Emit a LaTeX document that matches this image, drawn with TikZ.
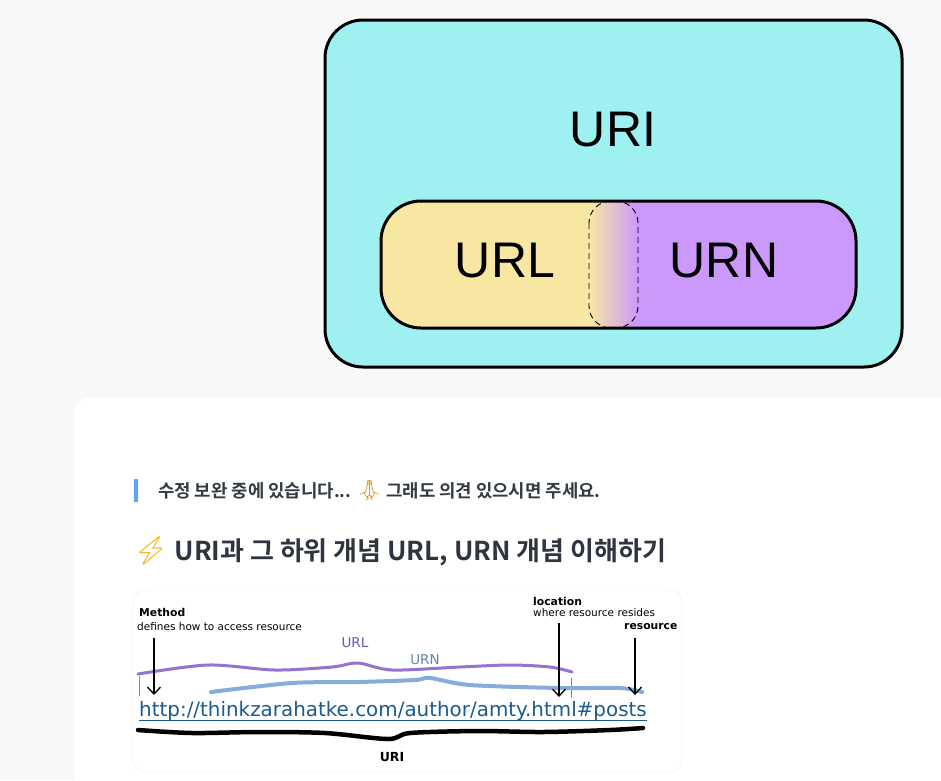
\documentclass[tikz,border=0pt]{standalone}
\usepackage{fontspec}
\setmainfont{Liberation Sans}
\newfontfamily\krfont{Noto Sans CJK KR Bold}
\newfontfamily\emojifont{Noto Emoji}
\newfontfamily\handfont{DejaVu Sans}
\usetikzlibrary{arrows.meta}
\definecolor{pagebg}{HTML}{F7F8FA}
\definecolor{uricyan}{HTML}{9EF0F1}
\definecolor{urlyellow}{HTML}{F7E7A2}
\definecolor{urnpurple}{HTML}{CB98FC}
\definecolor{quotebar}{HTML}{5BA4F7}
\definecolor{krtext}{HTML}{333A45}
\definecolor{headtext}{HTML}{2E3440}
\definecolor{linkblue}{HTML}{1C5B8C}
\definecolor{wavepurple}{HTML}{9474D0}
\definecolor{waveblue}{HTML}{86ABDD}
\definecolor{urltext}{HTML}{6E55A8}
\definecolor{urntext}{HTML}{6585A8}
\definecolor{boltyellow}{HTML}{F2B200}
\definecolor{prayorange}{HTML}{E0962A}
\begin{document}
\begin{tikzpicture}[x=1pt,y=-1pt,
	biglabel/.style={font=\fontsize{50}{50}\selectfont, inner sep=0pt},
	hand/.style={font=\handfont\fontsize{10.5}{12}\selectfont, inner sep=0pt},
	handbold/.style={font=\handfont\bfseries\fontsize{10.8}{12}\selectfont, inner sep=0pt},
	wave/.style={line width=3pt, line cap=round},
	pointer/.style={line width=1.1pt, -{Straight Barb[length=7pt,width=13pt,line width=1.3pt]}}
	]
	\useasboundingbox (0,0) rectangle (941,780);
	\fill[pagebg] (0,0) rectangle (941,780);
	% URI box with URL / URN pill
	\draw[line width=3pt, fill=uricyan, rounded corners=38pt] (325,20) rectangle (902,367);
	\node[biglabel] (uri) at (613,130) {URI};
	\begin{scope}
		\clip[rounded corners=40pt] (381,201) rectangle (856,328);
		\fill[urlyellow] (381,201) rectangle (613,328);
		\fill[urnpurple] (613,201) rectangle (856,328);
		\shade[left color=urlyellow, right color=urnpurple, rounded corners=22pt] (589,201) rectangle (638,328);
		\draw[line width=0.9pt, dash pattern=on 6pt off 4pt, rounded corners=22pt] (589,201) rectangle (638,328);
	\end{scope}
	\draw[line width=3pt, rounded corners=40pt] (381,201) rectangle (856,328);
	\node[biglabel] (url) at (505,261) {URL};
	\node[biglabel] (urn) at (724,261) {URN};
	% post card
	\fill[white, rounded corners=14pt] (74,398) rectangle (990,830);
	\fill[quotebar] (134,479) rectangle (138,502);
	\node[anchor=west, inner sep=0pt, text=krtext, font=\krfont\fontsize{17.8}{20}\selectfont] (note) at (158,491)
		{수정 보완 중에 있습니다... {\emojifont\fontsize{20}{20}\selectfont\color{prayorange}🙏} 그래도 의견 있으시면 주세요.};
	\node[anchor=west, inner sep=0pt, text=headtext, font=\krfont\fontsize{26}{30}\selectfont] (title) at (133,551)
		{{\emojifont\fontsize{28}{30}\selectfont\color{boltyellow}⚡} URI과 그 하위 개념 URL, URN 개념 이해하기};
	% embedded sketch
	\draw[black!7, fill=white, rounded corners=12pt] (133,590) rectangle (682,772);
	\node[handbold, anchor=west] (method) at (139,612) {Method};
	\node[hand, anchor=west] (methoddesc) at (137,627) {defines how to access resource};
	\node[handbold, anchor=west] (location) at (533,601) {location};
	\node[hand, anchor=west] (locationdesc) at (533,613) {where resource resides};
	\node[handbold, anchor=west] (resource) at (624,627) {resource};
	\node[hand, text=urltext, font=\handfont\fontsize{13.5}{14}\selectfont] (urllabel) at (355,643) {URL};
	\node[hand, text=urntext, font=\handfont\fontsize{13.5}{14}\selectfont] (urnlabel) at (425,660) {URN};
	\node[hand, anchor=base west, text=linkblue, font=\handfont\fontsize{19.9}{22}\selectfont] (link) at (139,716)
		{http://thinkzarahatke.com/author/amty.html\#posts};
	\draw[linkblue, line width=1pt] ([yshift=-4pt]link.base west) -- ([yshift=-4pt]link.base east);
	\node[handbold, font=\handfont\bfseries\fontsize{12.5}{14}\selectfont] (urilabel) at (392,757) {URI};
	\draw[wave, wavepurple] plot[smooth] coordinates {(138,674) (208,665) (275,670) (332,667) (358,663) (392,670) (460,667) (510,665) (550,667) (572,672)};
	\draw[wavepurple, line width=0.8pt] (139,676) -- (139,696);
	\draw[wavepurple, line width=0.8pt] (571,678) -- (571,698);
	\draw[wave, waveblue, line width=4pt] plot[smooth] coordinates {(211,692) (292,683) (358,682) (415,680) (430,678) (470,685) (560,688) (620,688) (642,692)};
	\draw[wave, black, line width=4.5pt] plot[smooth] coordinates {(138,730) (192,733) (258,732) (325,733) (388,739) (410,733) (477,731) (543,732) (610,730) (643,728)};
	\coordinate (methodtop) at (154,638);
	\coordinate (methodtip) at (154,695);
	\coordinate (locationtop) at (559,623);
	\coordinate (locationtip) at (559,697);
	\coordinate (resourcetop) at (635,638);
	\coordinate (resourcetip) at (635,695);
	\draw[pointer] (methodtop) -- (methodtip);
	\draw[pointer] (locationtop) -- (locationtip);
	\draw[pointer] (resourcetop) -- (resourcetip);
\end{tikzpicture}
\end{document}
